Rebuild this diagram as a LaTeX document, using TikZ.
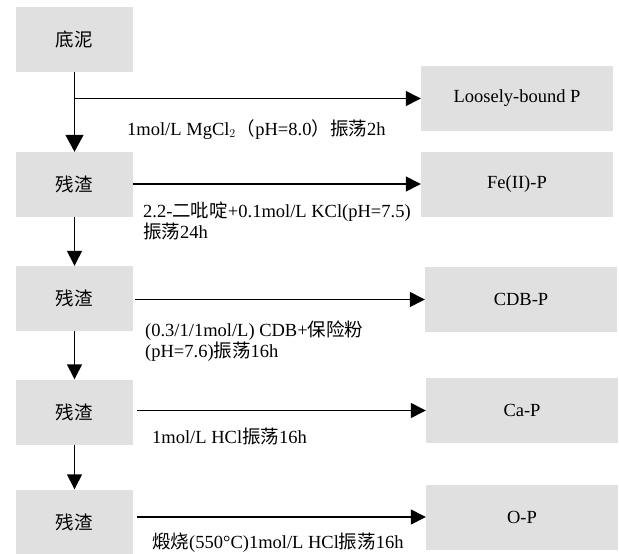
\documentclass[tikz,border=0pt]{standalone}
\usepackage{fontspec}
\setmainfont{Liberation Serif}
\newfontfamily\cjk{Noto Sans CJK SC}
\usetikzlibrary{arrows.meta}
\definecolor{boxgray}{RGB}{224,224,224}
\begin{document}
\begin{tikzpicture}[x=1pt,y=-1pt,
  every node/.style={font=\fontsize{18.5}{21}\selectfont},
  leftbox/.style={fill=boxgray,minimum width=117pt,minimum height=65pt,inner sep=0pt},
  rightbox/.style={fill=boxgray,minimum width=192pt,minimum height=65pt,inner sep=0pt},
  lab/.style={anchor=base west,inner sep=0pt},
  arr/.style={line width=1.4pt,-{Triangle[width=15pt,length=15pt]}},
  bigarr/.style={line width=1.4pt,-{Triangle[width=18pt,length=17pt]}}]
\useasboundingbox (0,0) rectangle (619,554);
% left boxes
\node[leftbox] (L1) at (74.5,39.5) {\cjk 底泥};
\node[leftbox] (L2) at (74.5,184.5) {\cjk 残渣};
\node[leftbox] (L3) at (74.5,298.5) {\cjk 残渣};
\node[leftbox] (L4) at (74.5,412) {\cjk 残渣};
\node[leftbox] (L5) at (74.5,522) {\cjk 残渣};
% right boxes
\node[rightbox] (R1) at (517,98.5) {Loosely-bound P};
\node[rightbox] (R2) at (517,184) {Fe(II)-P};
\node[rightbox] (R3) at (521,299.5) {CDB-P};
\node[rightbox] (R4) at (522,410.5) {Ca-P};
\node[rightbox] (R5) at (522,517) {O-P};
% vertical arrows
\coordinate (j1) at (L1.south |- R1.west);
\draw[bigarr] (L1.south) -- (L2.north);
\draw[arr] (L2.south) -- (L3.north);
\draw[arr] (L3.south) -- (L4.north);
\draw[arr] (L4.south) -- (L5.north);
% horizontal arrows
\draw[arr] (j1) -- (R1.west);
\draw[arr] (L2.east |- R2.west) -- (R2.west);
\draw[arr,shorten <=2pt] (L3.east |- R3.west) -- (R3.west);
\draw[arr,shorten <=4pt] (L4.east |- R4.west) -- (R4.west);
\draw[arr,shorten <=4pt] (L5.east |- R5.west) -- (R5.west);
% labels
\node[lab] (t1) at (127,135) {1mol/L MgCl$_2$\kern1pt{\cjk （}pH=8.0{\cjk ）}{\cjk 振荡}2h};
\node[lab] (t2a) at (143,217) {2.2-{\cjk 二吡啶}+0.1mol/L KCl(pH=7.5)};
\node[lab] (t2b) at (143,238) {{\cjk 振荡}24h};
\node[lab] (t3a) at (145,336) {(0.3/1/1mol/L) CDB+{\cjk 保险粉}};
\node[lab] (t3b) at (145,357) {(pH=7.6){\cjk 振荡}16h};
\node[lab] (t4) at (152,443) {1mol/L HCl{\cjk 振荡}16h};
\node[lab] (t5) at (152,548) {{\cjk 煅烧}(550°C)1mol/L HCl{\cjk 振荡}16h};
\end{tikzpicture}
\end{document}
